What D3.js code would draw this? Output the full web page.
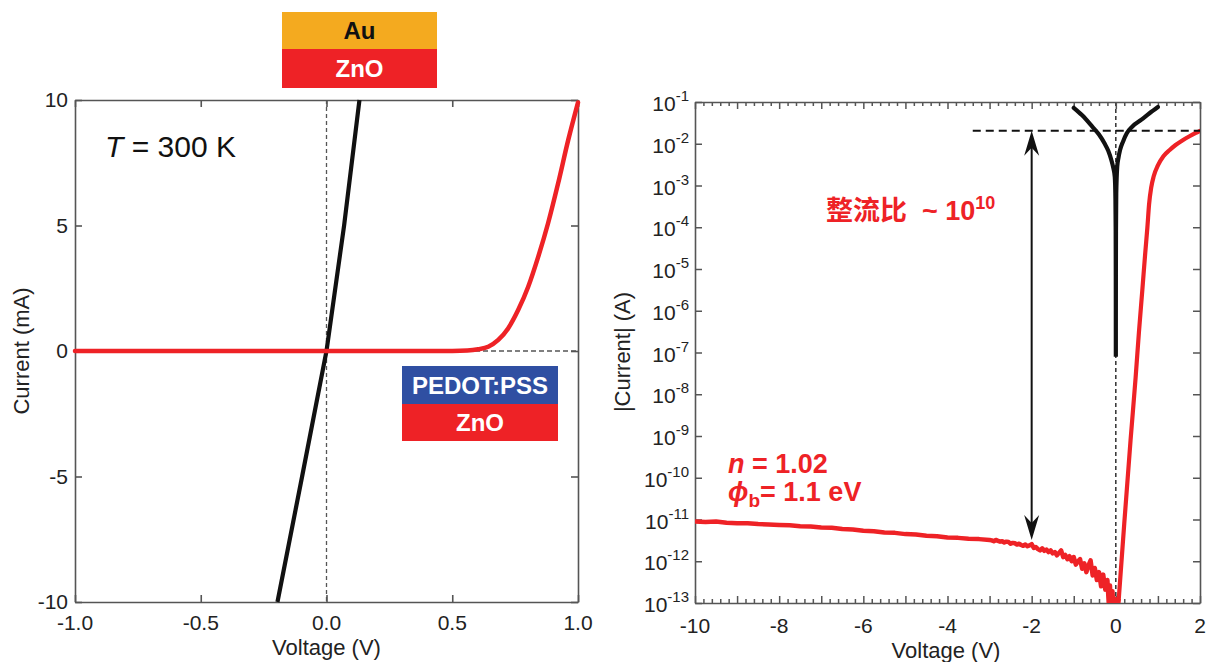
<!DOCTYPE html>
<html><head><meta charset="utf-8">
<script src="https://cdn.jsdelivr.net/npm/d3@7"></script>
<style>
body{margin:0;background:#fff}
svg{display:block}
text{font-family:"Liberation Sans",Arial,Helvetica,sans-serif}
</style>
</head><body>
<svg id="c" width="1208" height="662"></svg>
<script>
// ---------------- data ----------------
const leftXTicks = [-1.0, -0.5, 0.0, 0.5, 1.0];
const leftYTicks = [-10, -5, 0, 5, 10];
// Au/ZnO (ohmic): voltage (V) vs current (mA)
const ohmicV = [-0.195, -0.097, 0.0, 0.07, 0.131];
const ohmicI = [-10, -5, 0, 5, 10];
// PEDOT:PSS/ZnO (Schottky): voltage (V) vs current (mA)
const schottkyV = [-1.0, -0.5, 0.0, 0.3, 0.5, 0.56, 0.603, 0.643, 0.683, 0.722, 0.762, 0.802, 0.842, 0.881, 0.921, 0.961, 1.0];
const schottkyI = [0, 0, 0, 0, 0.005, 0.02, 0.07, 0.17, 0.44, 0.90, 1.63, 2.56, 3.76, 5.09, 6.68, 8.4, 9.9];

const rightXTicks = [-10, -8, -6, -4, -2, 0, 2];
const rightYExps = [-1, -2, -3, -4, -5, -6, -7, -8, -9, -10, -11, -12, -13];
// Schottky |I| on log scale: [voltage, log10 |I| (A)]
const redReverse = [
 [-10,-11.05],[-9.75,-11.06],[-9.5,-11.05],[-9.25,-11.08],[-9,-11.09],[-8.75,-11.09],[-8.5,-11.11],[-8.25,-11.12],
 [-8,-11.13],[-7.75,-11.14],[-7.5,-11.16],[-7.25,-11.17],[-7,-11.19],[-6.75,-11.20],[-6.5,-11.23],[-6.25,-11.24],
 [-6,-11.27],[-5.75,-11.28],[-5.5,-11.31],[-5.25,-11.32],[-5,-11.35],[-4.75,-11.36],[-4.5,-11.39],[-4.25,-11.40],
 [-4,-11.43],[-3.75,-11.44],[-3.5,-11.46],[-3.25,-11.47],
 [-3.00,-11.49],[-2.95,-11.50],[-2.90,-11.52],[-2.85,-11.49],[-2.80,-11.51],[-2.75,-11.53],[-2.70,-11.52],[-2.65,-11.55],
 [-2.60,-11.53],[-2.55,-11.54],[-2.50,-11.58],[-2.45,-11.56],[-2.40,-11.57],[-2.35,-11.60],[-2.30,-11.58],[-2.25,-11.61],
 [-2.20,-11.63],[-2.15,-11.60],[-2.10,-11.64],[-2.05,-11.62],[-2.00,-11.59],[-1.95,-11.68],[-1.90,-11.66],[-1.85,-11.71],
 [-1.80,-11.74],[-1.75,-11.69],[-1.70,-11.75],[-1.65,-11.72],[-1.60,-11.78],[-1.55,-11.74],[-1.50,-11.81],[-1.45,-11.78],
 [-1.40,-11.86],[-1.35,-11.80],[-1.30,-11.74],[-1.25,-11.90],[-1.20,-11.85],[-1.15,-11.95],[-1.10,-11.88],[-1.05,-12.00],
 [-1.00,-11.90],[-0.95,-12.08],[-0.90,-12.00],[-0.85,-11.95],[-0.80,-12.18],[-0.75,-12.05],[-0.70,-12.26],[-0.65,-12.10],
 [-0.60,-11.98],[-0.55,-12.34],[-0.50,-12.16],[-0.45,-12.45],[-0.40,-12.26],[-0.35,-12.60],[-0.30,-12.32],[-0.25,-12.68],
 [-0.20,-12.45],[-0.17,-12.98],[-0.14,-12.58],[-0.11,-13.2],[-0.08,-12.72],[-0.05,-13.3],[-0.02,-12.9],[0.00,-13.3],
 [0.03,-13.3],[0.07,-12.9]
];
const redForward = [
 [0.07,-12.9],[0.20,-11.1],[0.35,-9.1],[0.47,-7.6],[0.55,-6.5],[0.63,-5.5],[0.70,-4.6],[0.75,-4.0],[0.79,-3.45],
 [0.84,-3.05],[0.90,-2.78],[1.00,-2.52],[1.13,-2.30],[1.28,-2.15],[1.42,-2.03],[1.58,-1.92],[1.75,-1.82],[1.90,-1.74],[2.00,-1.69]
];
// Ohmic |I| on log scale: [voltage, log10 |I| (A)]
const blackLog = [
 [-1.00,-1.14],[-0.80,-1.32],[-0.56,-1.59],[-0.40,-1.78],[-0.27,-1.99],[-0.18,-2.17],[-0.107,-2.39],[-0.06,-2.58],
 [-0.025,-2.79],[-0.010,-3.3],[-0.004,-4.0],[-0.0015,-5.0],[-0.0005,-6.0],[0.0,-7.1],[0.0005,-6.0],[0.0015,-5.0],
 [0.004,-4.0],[0.010,-3.2],[0.033,-2.55],[0.06,-2.35],[0.10,-2.15],[0.17,-1.95],[0.26,-1.75],[0.40,-1.58],
 [0.60,-1.43],[0.80,-1.27],[1.00,-1.12]
];
const ratioLevel = -1.69;   // log10 of on-current level (dashed line)
const ratioLow = -11.49;    // log10 of off-current at arrow
const ratioV = -2;          // arrow position

// ---------------- drawing ----------------
const svg = d3.select('#c');
const RED = '#ee2226', BLACK = '#111', AXIS = '#555';

// ===== Left panel =====
const xL = d3.scaleLinear().domain([-1, 1]).range([75, 578]);
const yL = d3.scaleLinear().domain([-10, 10]).range([602, 100]);
const gL = svg.append('g');

gL.append('line').attr('x1', xL(0)).attr('x2', xL(0)).attr('y1', yL(10)).attr('y2', yL(-10))
  .attr('stroke', '#555').attr('stroke-width', 1.3).attr('stroke-dasharray', '4,3');
gL.append('line').attr('x1', xL(-1)).attr('x2', xL(1)).attr('y1', yL(0)).attr('y2', yL(0))
  .attr('stroke', '#555').attr('stroke-width', 1.5).attr('stroke-dasharray', '5,3');

function frame(g, x, y, xt, yt, tick) {
  g.append('g').attr('transform', `translate(0,${y.range()[0]})`)
    .call(d3.axisBottom(x).tickValues(xt).tickSize(-tick).tickSizeOuter(0).tickFormat(''));
  g.append('g').attr('transform', `translate(0,${y.range()[1]})`)
    .call(d3.axisTop(x).tickValues(xt).tickSize(-tick).tickSizeOuter(0).tickFormat(''));
  g.append('g').attr('transform', `translate(${x.range()[0]},0)`)
    .call(d3.axisLeft(y).tickValues(yt).tickSize(-tick).tickSizeOuter(0).tickFormat(''));
  g.append('g').attr('transform', `translate(${x.range()[1]},0)`)
    .call(d3.axisRight(y).tickValues(yt).tickSize(-tick).tickSizeOuter(0).tickFormat(''));
  g.selectAll('.domain').attr('stroke', AXIS).attr('stroke-width', 1.6);
  g.selectAll('.tick line').attr('stroke', AXIS).attr('stroke-width', 1.6);
}
const axL = gL.append('g');
frame(axL, xL, yL, leftXTicks, leftYTicks, 7);

gL.append('path').datum(ohmicV.map((v, i) => [v, ohmicI[i]]))
  .attr('d', d3.line().x(d => xL(d[0])).y(d => yL(d[1])))
  .attr('fill', 'none').attr('stroke', BLACK).attr('stroke-width', 4.2);
gL.append('path').datum(schottkyV.map((v, i) => [v, schottkyI[i]]))
  .attr('d', d3.line().x(d => xL(d[0])).y(d => yL(d[1])).curve(d3.curveMonotoneX))
  .attr('fill', 'none').attr('stroke', RED).attr('stroke-width', 4.5).attr('stroke-linecap', 'round');

gL.selectAll('.xl').data(leftXTicks).join('text')
  .attr('x', d => xL(d)).attr('y', 630).attr('text-anchor', 'middle')
  .attr('font-size', 21).attr('fill', '#222').text(d => d.toFixed(1));
gL.selectAll('.yl').data(leftYTicks).join('text')
  .attr('x', 68).attr('y', d => yL(d) + 7).attr('text-anchor', 'end')
  .attr('font-size', 21).attr('fill', '#222').text(d => d);
gL.append('text').attr('x', xL(0)).attr('y', 655).attr('text-anchor', 'middle')
  .attr('font-size', 22).attr('fill', '#222').text('Voltage (V)');
gL.append('text').attr('transform', `translate(29,${yL(0)}) rotate(-90)`).attr('text-anchor', 'middle')
  .attr('font-size', 22).attr('fill', '#222').text('Current (mA)');

const tT = gL.append('text').attr('x', 105).attr('y', 157).attr('font-size', 30).attr('fill', '#111');
tT.append('tspan').attr('font-style', 'italic').text('T');
tT.append('tspan').text(' = 300 K');

function stack(x, y, w, h1, h2, top, topFill, topText, bottomText) {
  svg.append('rect').attr('x', x).attr('y', y).attr('width', w).attr('height', h1).attr('fill', topFill);
  svg.append('rect').attr('x', x).attr('y', y + h1).attr('width', w).attr('height', h2).attr('fill', RED);
  svg.append('text').attr('x', x + w / 2).attr('y', y + h1 / 2 + 8.5).attr('text-anchor', 'middle')
    .attr('font-size', 24).attr('font-weight', 'bold').attr('fill', top).text(topText);
  svg.append('text').attr('x', x + w / 2).attr('y', y + h1 + h2 / 2 + 8.5).attr('text-anchor', 'middle')
    .attr('font-size', 24).attr('font-weight', 'bold').attr('fill', '#fff').text(bottomText);
}
stack(282, 12, 155, 37, 39, '#111', '#f4aa1f', 'Au', 'ZnO');
stack(402, 366, 156, 38, 37, '#fff', '#2f4fa2', 'PEDOT:PSS', 'ZnO');

// ===== Right panel =====
const xR = d3.scaleLinear().domain([-10, 2]).range([695, 1200]);
const yR = d3.scaleLog().domain([1e-13, 1e-1]).range([603, 102]);
const gR = svg.append('g');

svg.append('clipPath').attr('id', 'clipR').append('rect')
  .attr('x', 695).attr('y', 102).attr('width', 505).attr('height', 501);

gR.append('line').attr('x1', xR(0)).attr('x2', xR(0)).attr('y1', yR(1e-1)).attr('y2', yR(1e-13))
  .attr('stroke', '#111').attr('stroke-width', 1.3).attr('stroke-dasharray', '4,3');

const axR = gR.append('g');
const yTickVals = rightYExps.map(e => Math.pow(10, e));
frame(axR, xR, yR, d3.range(-10, 2.001, 1), yTickVals, 7);
const minor = d3.range(-10, 2.001, 0.2).filter(v => Math.abs(v - Math.round(v)) > 0.05);
axR.append('g').attr('transform', `translate(0,603)`)
  .call(d3.axisBottom(xR).tickValues(minor).tickSize(-4).tickSizeOuter(0).tickFormat(''))
  .call(g => g.select('.domain').remove());
axR.append('g').attr('transform', `translate(0,102)`)
  .call(d3.axisTop(xR).tickValues(minor).tickSize(-4).tickSizeOuter(0).tickFormat(''))
  .call(g => g.select('.domain').remove());
axR.selectAll('.tick line').attr('stroke', AXIS).attr('stroke-width', 1.5);

const lineR = d3.line().x(d => xR(d[0])).y(d => yR(Math.pow(10, d[1])));
const curvesR = gR.append('g').attr('clip-path', 'url(#clipR)');
curvesR.append('path').datum(redReverse).attr('d', lineR.curve(d3.curveLinear))
  .attr('fill', 'none').attr('stroke', RED).attr('stroke-width', 4.5).attr('stroke-linejoin', 'round');
curvesR.append('path').datum(redForward)
  .attr('d', d3.line().x(d => xR(d[0])).y(d => yR(Math.pow(10, d[1]))).curve(d3.curveMonotoneX))
  .attr('fill', 'none').attr('stroke', RED).attr('stroke-width', 4.2).attr('stroke-linecap', 'round');
curvesR.append('path').datum(blackLog)
  .attr('d', d3.line().x(d => xR(d[0])).y(d => yR(Math.pow(10, d[1]))).curve(d3.curveMonotoneX))
  .attr('fill', 'none').attr('stroke', BLACK).attr('stroke-width', 4.2).attr('stroke-linecap', 'round');

gR.append('line').attr('x1', xR(-3.4)).attr('x2', xR(2)).attr('y1', yR(Math.pow(10, ratioLevel))).attr('y2', yR(Math.pow(10, ratioLevel)))
  .attr('stroke', '#111').attr('stroke-width', 2).attr('stroke-dasharray', '8,5');

const ax = xR(ratioV), ay1 = yR(Math.pow(10, ratioLevel)), ay2 = yR(Math.pow(10, ratioLow));
gR.append('line').attr('x1', ax).attr('x2', ax).attr('y1', ay1 + 12).attr('y2', ay2 - 12)
  .attr('stroke', '#111').attr('stroke-width', 2);
const head = 'M0,0 L-7.5,25 L0,17 L7.5,25 Z';
gR.append('path').attr('d', head).attr('transform', `translate(${ax},${ay1})`).attr('fill', '#111');
gR.append('path').attr('d', head).attr('transform', `translate(${ax},${ay2}) rotate(180)`).attr('fill', '#111');

gR.selectAll('.xr').data(rightXTicks).join('text')
  .attr('x', d => xR(d)).attr('y', 633).attr('text-anchor', 'middle')
  .attr('font-size', 21).attr('fill', '#222').text(d => d);
const yl = gR.selectAll('.yr').data(rightYExps).join('text')
  .attr('x', 689).attr('y', d => yR(Math.pow(10, d)) + 9).attr('text-anchor', 'end')
  .attr('font-size', 21).attr('fill', '#222');
yl.append('tspan').text('10');
yl.append('tspan').attr('dy', -10).attr('font-size', 15).text(d => d);
gR.append('text').attr('x', 946).attr('y', 658).attr('text-anchor', 'middle')
  .attr('font-size', 22).attr('fill', '#222').text('Voltage (V)');
gR.append('text').attr('transform', `translate(630,352) rotate(-90)`).attr('text-anchor', 'middle')
  .attr('font-size', 22).attr('fill', '#222').text('|Current| (A)');

const rt = gR.append('text').attr('x', 826).attr('y', 220).attr('fill', RED).attr('font-size', 27);
rt.append('tspan').attr('font-family', '"Noto Sans CJK SC", sans-serif').attr('font-weight', 700).text('整流比');
rt.append('tspan').attr('font-weight', 'bold').attr('dx', 15).text('~ 10');
rt.append('tspan').attr('font-weight', 'bold').attr('font-size', 18).attr('dy', -11).text('10');

const nt = gR.append('text').attr('x', 728).attr('y', 473).attr('fill', RED).attr('font-size', 27).attr('font-weight', 'bold');
nt.append('tspan').attr('font-style', 'italic').text('n');
nt.append('tspan').text(' = 1.02');
const pt = gR.append('text').attr('x', 728).attr('y', 501).attr('fill', RED).attr('font-size', 27).attr('font-weight', 'bold');
pt.append('tspan').attr('font-style', 'italic').text('ϕ');
pt.append('tspan').attr('font-size', 19).attr('dy', 6).text('b');
pt.append('tspan').attr('dy', -6).text('= 1.1 eV');
</script>
</body></html>
